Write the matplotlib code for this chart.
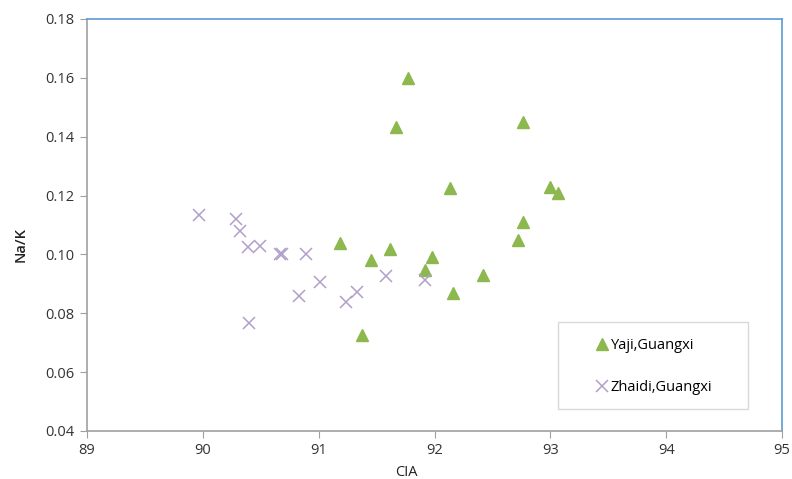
import matplotlib.pyplot as plt
from matplotlib.patches import Rectangle

# Yaji, Guangxi
yaji_cia = [91.77, 91.67, 92.76, 92.13, 93.00, 93.07, 92.76, 92.72, 91.18,
            91.62, 91.45, 91.98, 91.92, 92.42, 92.16, 91.37]
yaji_nak = [0.160, 0.1433, 0.145, 0.1226, 0.123, 0.121, 0.111, 0.105, 0.104,
            0.102, 0.098, 0.099, 0.0946, 0.093, 0.0868, 0.0726]

# Zhaidi, Guangxi
zhaidi_cia = [89.97, 90.29, 90.32, 90.39, 90.49, 90.68, 90.67, 90.89, 91.01,
              90.83, 91.24, 91.33, 91.58, 91.92, 90.40]
zhaidi_nak = [0.1134, 0.112, 0.108, 0.1024, 0.103, 0.1002, 0.1002, 0.1002, 0.0907,
              0.0858, 0.0838, 0.0871, 0.0927, 0.0913, 0.0766]

plt.rcParams['font.family'] = ['Open Sans', 'DejaVu Sans']

fig = plt.figure(figsize=(7.92, 4.79), dpi=100)
ax = fig.add_axes([87/792, 48/479, 695/792, 412/479])

ax.plot(yaji_cia, yaji_nak, linestyle='none', marker='^', markersize=9.3,
        color='#8cb84e', markeredgecolor='#8cb84e', label='Yaji,Guangxi')
ax.plot(zhaidi_cia, zhaidi_nak, linestyle='none', marker='x', markersize=9.3,
        markeredgewidth=1.1, color='#b09fcb', label='Zhaidi,Guangxi')

ax.set_xlim(89, 95)
ax.set_ylim(0.04, 0.18)
ax.set_xticks([89, 90, 91, 92, 93, 94, 95])
ax.set_yticks([0.04, 0.06, 0.08, 0.10, 0.12, 0.14, 0.16, 0.18])
ax.set_yticklabels(['%.2f' % v for v in ax.get_yticks()])

ax.tick_params(direction='out', length=5, color='#a0a0a0', labelsize=10.5,
               labelcolor='#333333', pad=4)

for s in ['left', 'bottom']:
    ax.spines[s].set_color('#a0a0a0')
    ax.spines[s].set_linewidth(1.2)
for s in ['top', 'right']:
    ax.spines[s].set_color('#5b9bd5')
    ax.spines[s].set_linewidth(1.2)

ax.set_xlabel('CIA', fontsize=10.5, color='#222222')
ax.xaxis.set_label_coords((406 - 87) / 695, -0.082)
ax.set_ylabel('Na/K', fontsize=10.5, color='#222222', fontweight='semibold')
ax.yaxis.set_label_coords(-0.085, (431 - 245) / 412)

# legend box drawn separately, entries placed inside it
box = Rectangle(((558 - 87) / 695, (431 - 409) / 412), 190 / 695, 87 / 412,
                transform=ax.transAxes, facecolor='white', edgecolor='#d9d9d9',
                linewidth=1.0, zorder=4)
ax.add_patch(box)
leg = ax.legend(loc='upper left', bbox_to_anchor=((596 - 87) / 695, (431 - 338) / 412),
                frameon=False, fontsize=10.5, handlelength=0.8, handletextpad=0.2,
                labelspacing=1.85, borderpad=0, borderaxespad=0)
leg.set_zorder(5)

fig.savefig('out.png', dpi=100)
